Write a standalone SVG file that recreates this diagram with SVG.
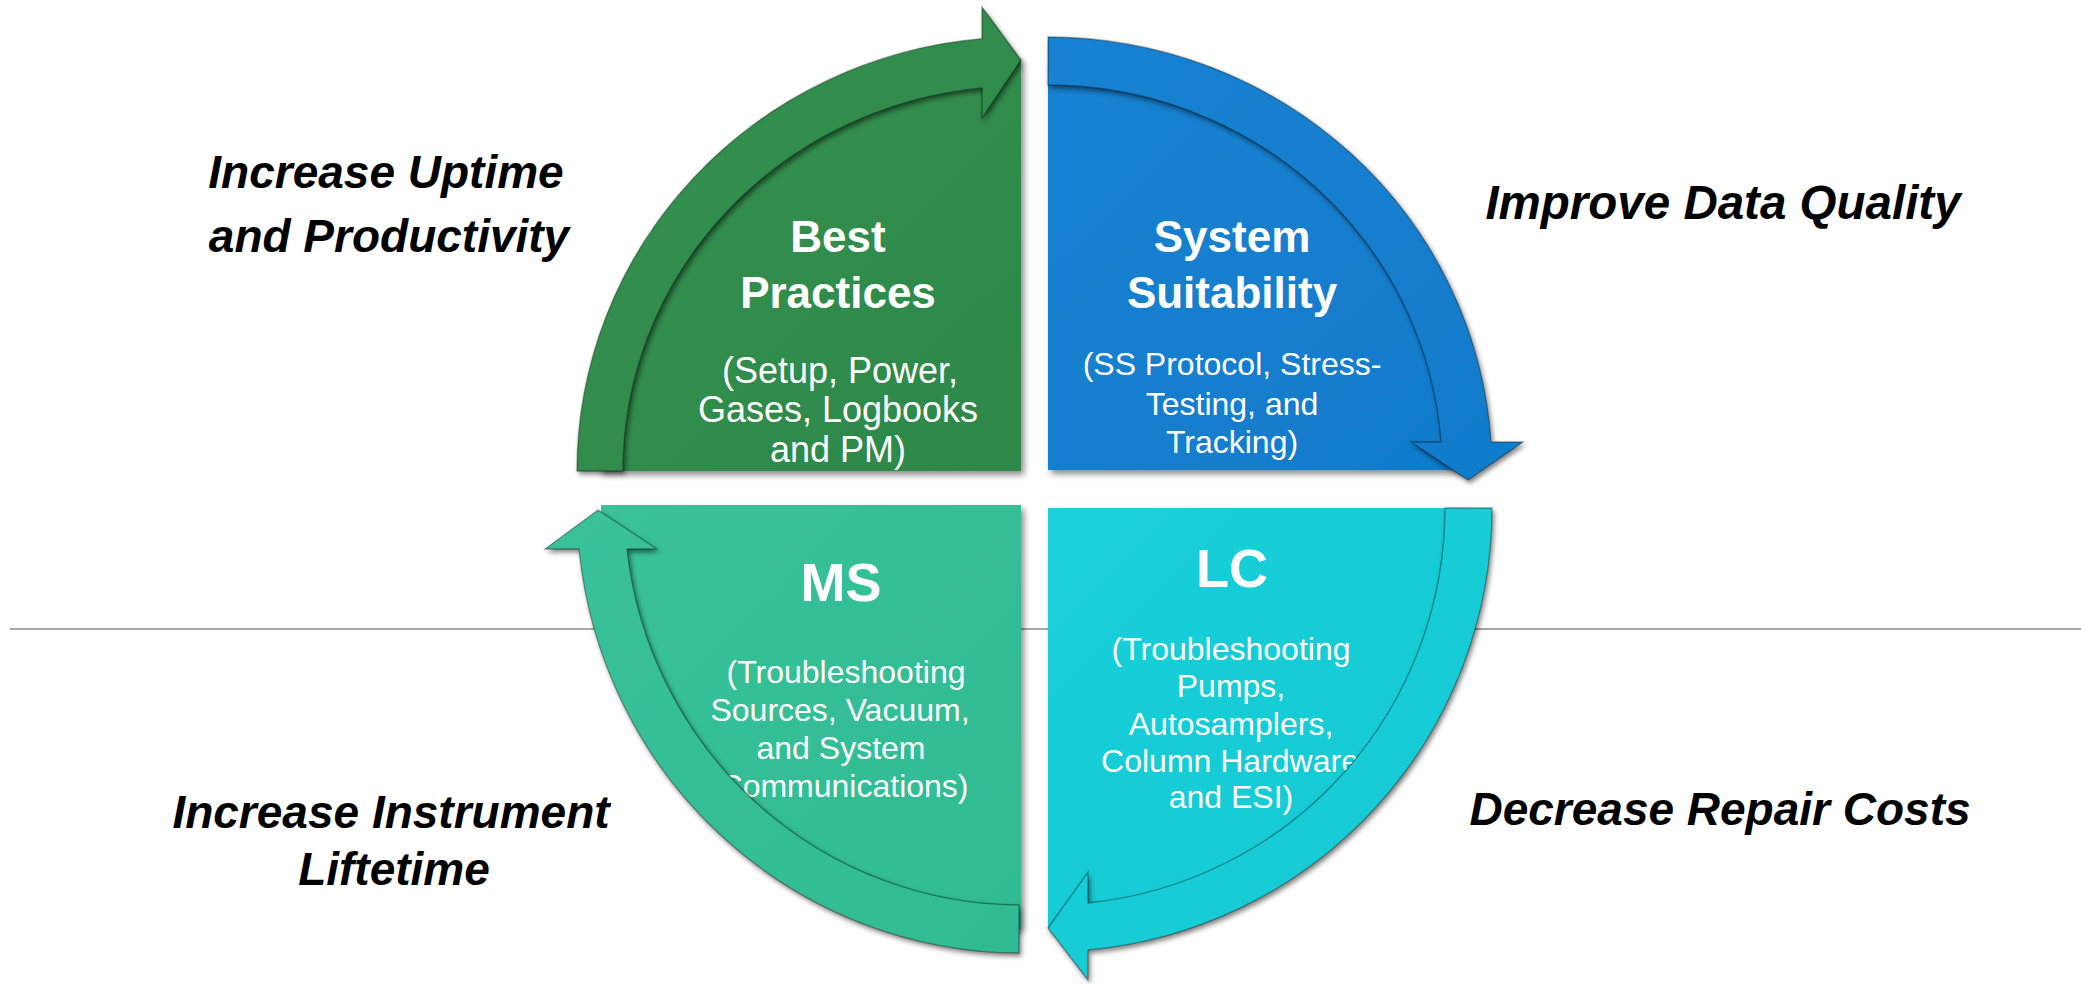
<svg xmlns="http://www.w3.org/2000/svg" width="2081" height="984" viewBox="0 0 2081 984">
<defs>
<style>
.side{font-family:"Liberation Sans",Arial,sans-serif;font-weight:bold;font-style:italic;font-size:46px;fill:#000;text-anchor:middle}
.title{font-family:"Liberation Sans",Arial,sans-serif;font-weight:bold;font-size:44px;fill:#fff;text-anchor:middle}
.big{font-family:"Liberation Sans",Arial,sans-serif;font-weight:bold;font-size:54px;fill:#fff;text-anchor:middle}
.sub{font-family:"Liberation Sans",Arial,sans-serif;font-size:32px;fill:#fff;text-anchor:middle}
.sub36{font-family:"Liberation Sans",Arial,sans-serif;font-size:36px;fill:#fff;text-anchor:middle}
.band{stroke:rgba(0,0,0,0.35);stroke-width:1.3;filter:url(#bsh)}
</style>
<filter id="sh" x="-10%" y="-10%" width="125%" height="125%">
<feDropShadow dx="3" dy="4" stdDeviation="3" flood-color="#000" flood-opacity="0.45"/>
</filter>
<filter id="bsh" x="-10%" y="-10%" width="125%" height="125%">
<feDropShadow dx="2" dy="3" stdDeviation="2.5" flood-color="#000" flood-opacity="0.5"/>
</filter>
<linearGradient id="gG" x1="0" y1="0" x2="1" y2="1"><stop offset="0" stop-color="#33914F"/><stop offset="1" stop-color="#2D884A"/></linearGradient>
<linearGradient id="gB" x1="0" y1="0" x2="1" y2="1"><stop offset="0" stop-color="#1582D1"/><stop offset="1" stop-color="#117BCB"/></linearGradient>
<linearGradient id="gM" x1="0" y1="0" x2="1" y2="1"><stop offset="0" stop-color="#3AC29A"/><stop offset="1" stop-color="#2FBB91"/></linearGradient>
<linearGradient id="gL" x1="0" y1="0" x2="1" y2="1"><stop offset="0" stop-color="#1BD0D9"/><stop offset="1" stop-color="#13C9D3"/></linearGradient>
</defs>
<rect width="2081" height="984" fill="#fff"/>
<line x1="10" y1="629" x2="2081" y2="629" stroke="#A6A6A6" stroke-width="2"/>

<g id="label-uptime">
<text class="side" x="386" y="188">Increase Uptime</text>
<text class="side" x="389" y="252">and Productivity</text>
</g>
<g id="label-quality"><text class="side" x="1723" y="219" style="font-size:47.5px">Improve Data Quality</text></g>
<g id="label-lifetime">
<text class="side" x="391" y="828">Increase Instrument</text>
<text class="side" x="394" y="885">Liftetime</text>
</g>
<g id="label-costs"><text class="side" x="1720" y="825">Decrease Repair Costs</text></g>

<g id="node-best-practices">
<path d="M1021,471 L599,471 A422 412 0 0 1 1021,59 Z" fill="url(#gG)" filter="url(#sh)"/>
<text class="title" x="838" y="252">Best</text>
<text class="title" x="838" y="308">Practices</text>
<text class="sub36" x="840" y="383">(Setup, Power,</text>
<text class="sub36" x="838" y="422">Gases, Logbooks</text>
<text class="sub36" x="838" y="462">and PM)</text>
</g>

<g id="node-system-suitability">
<path d="M1048,470 L1048,60 A420 410 0 0 1 1468,470 Z" fill="url(#gB)" filter="url(#sh)"/>
<text class="title" x="1232" y="252">System</text>
<text class="title" x="1232" y="308">Suitability</text>
<text class="sub" x="1232" y="375">(SS Protocol, Stress-</text>
<text class="sub" x="1232" y="415">Testing, and</text>
<text class="sub" x="1232" y="453">Tracking)</text>
</g>

<g id="node-ms">
<path d="M1021,505 L601,505 A420 424 0 0 0 1021,929 Z" fill="url(#gM)" filter="url(#sh)"/>
<text class="big" x="841" y="601">MS</text>
<text class="sub" x="846" y="683">(Troubleshooting</text>
<text class="sub" x="840" y="721">Sources, Vacuum,</text>
<text class="sub" x="841" y="759">and System</text>
<text class="sub" x="844" y="797">Communications)</text>
</g>

<g id="node-lc">
<path d="M1048,508 L1468,508 A420 420 0 0 1 1048,928 Z" fill="url(#gL)" filter="url(#sh)"/>
<text class="big" x="1232" y="587">LC</text>
<text class="sub" x="1231" y="660">(Troubleshooting</text>
<text class="sub" x="1231" y="697">Pumps,</text>
<text class="sub" x="1231" y="735">Autosamplers,</text>
<text class="sub" x="1230" y="772">Column Hardware</text>
<text class="sub" x="1231" y="808">and ESI)</text>
</g>

<g id="connectors">
<path class="band" fill="url(#gG)" d="M577,471 A444 434 0 0 1 982,38.7 L982,7 L1021,60 L982,118 L982,87.9 A398 385 0 0 0 623,471 Z"/>
<path class="band" fill="url(#gB)" d="M1048,37 A444 433 0 0 1 1491,442 L1523,442 L1468,480 L1411,442 L1441,442 A394 385 0 0 0 1048,85 Z"/>
<path class="band" fill="url(#gM)" d="M1019,953 A444 448 0 0 1 579,549 L545,549 L598,510 L657,549 L627,549 A396 400 0 0 0 1019,905 Z"/>
<path class="band" fill="url(#gL)" d="M1492,508 A444 444 0 0 1 1088,950 L1088,980 L1048,928 L1088,872 L1088,903 A397 397 0 0 0 1445,508 Z"/>
</g>
</svg>
